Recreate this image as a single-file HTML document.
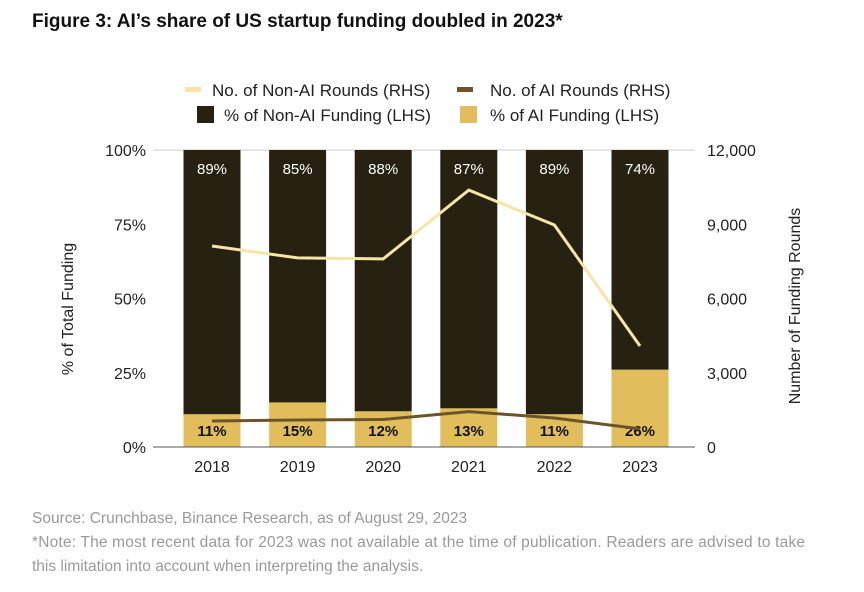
<!DOCTYPE html>
<html><head><meta charset="utf-8"><style>
body{margin:0;background:#fff;width:864px;height:587px;overflow:hidden;font-family:"Liberation Sans",sans-serif}
svg text{font-family:"Liberation Sans",sans-serif}
</style></head><body>
<svg id="c" width="864" height="587">
<text x="32" y="27" font-size="19" font-weight="bold" fill="#111">Figure 3: AI’s share of US startup funding doubled in 2023*</text>
<g>
<rect x="185" y="87" width="16" height="5" fill="#f5e6a8"/>
<text x="212" y="96" font-size="17" fill="#222">No. of Non-AI Rounds (RHS)</text>
<rect x="457" y="87" width="16" height="5" fill="#6b5528"/>
<text x="490" y="96" font-size="17" fill="#222">No. of AI Rounds (RHS)</text>
<rect x="197" y="106" width="17" height="17" fill="#272112"/>
<text x="224" y="121" font-size="17" fill="#222">% of Non-AI Funding (LHS)</text>
<rect x="460" y="106" width="17" height="17" fill="#e2bd5c"/>
<text x="490" y="121" font-size="17" fill="#222">% of AI Funding (LHS)</text>
</g>
<g id="plot"></g>
<text transform="translate(73,309) rotate(-90)" text-anchor="middle" font-size="16" fill="#222">% of Total Funding</text>
<text transform="translate(800,306) rotate(-90)" text-anchor="middle" font-size="16" fill="#222">Number of Funding Rounds</text>
<text x="32" y="523" font-size="15.5" fill="#999">Source: Crunchbase, Binance Research, as of August 29, 2023</text>
<text x="32" y="547" font-size="15.5" fill="#999" textLength="773">*Note: The most recent data for 2023 was not available at the time of publication. Readers are advised to take</text>
<text x="32" y="571" font-size="15.5" fill="#999">this limitation into account when interpreting the analysis.</text>
</svg>
<script>
const years=["2018","2019","2020","2021","2022","2023"];
const aiShare=[11,15,12,13,11,26];
const nonAiShare=[89,85,88,87,89,74];
const nonAiRounds=[8120,7640,7600,10380,8970,4080];
const aiRounds=[1050,1090,1110,1430,1170,730];
const leftTicks=[0,25,50,75,100];
const rightTicks=[0,3000,6000,9000,12000];
const NS="http://www.w3.org/2000/svg";
const g=document.getElementById('plot');
const y0=447,y1=150;
const yL=v=>y0-(v/100)*(y0-y1);
const yR=v=>y0-(v/12000)*(y0-y1);
const xC=i=>212+i*85.6;
const bw=57;
function mk(t,a,txt){const e=document.createElementNS(NS,t);for(const k in a)e.setAttribute(k,a[k]);if(txt!=null)e.textContent=txt;g.appendChild(e);return e;}
let e=mk('line',{x1:153,x2:695,y1:y1,y2:y1,stroke:'#ccc','stroke-width':1});


years.forEach((yr,i)=>{
 const x=xC(i)-bw/2;
 let r=mk('rect',{x:x,y:yL(100),width:bw,height:yL(aiShare[i])-yL(100),fill:'#272112'});
 
 
 r=mk('rect',{x:x,y:yL(aiShare[i]),width:bw,height:y0-yL(aiShare[i]),fill:'#e2bd5c'});
 
 
 let t=mk('text',{x:xC(i),y:174,'text-anchor':'middle','font-size':15,fill:'#fff'},nonAiShare[i]+'%');
 
 
 t=mk('text',{x:xC(i),y:436,'text-anchor':'middle','font-size':15,'font-weight':'bold',fill:'#111'},aiShare[i]+'%');
 
 
 t=mk('text',{x:xC(i),y:472,'text-anchor':'middle','font-size':16,fill:'#222'},yr);
 
 
});
e=mk('line',{x1:153,x2:695,y1:y0,y2:y0,stroke:'#555','stroke-width':1});


leftTicks.forEach(v=>{const t=mk('text',{x:146,y:yL(v)+6,'text-anchor':'end','font-size':16,fill:'#222'},v+'%');
 
 });
rightTicks.forEach(v=>{const t=mk('text',{x:707,y:yR(v)+6,'font-size':16,fill:'#222'},v.toLocaleString('en-US'));
 
 });
let p=mk('polyline',{points:nonAiRounds.map((v,i)=>xC(i)+','+yR(v)).join(' '),fill:'none',stroke:'#f5e6a8','stroke-width':3});


p=mk('polyline',{points:aiRounds.map((v,i)=>xC(i)+','+yR(v)).join(' '),fill:'none',stroke:'#6b5528','stroke-width':3});


</script>
</body></html>
